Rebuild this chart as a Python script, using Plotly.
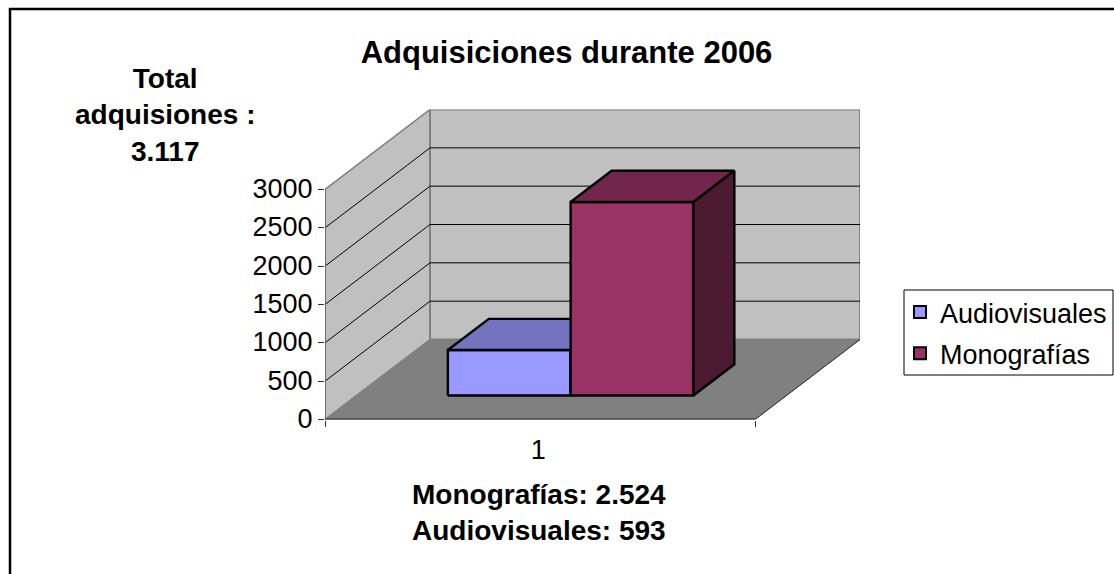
import plotly.graph_objects as go

# ---- data ----
series_names = ["Audiovisuales", "Monografías"]
series_values = [593, 2524]
categories = ["1"]
value_ticks = [0, 500, 1000, 1500, 2000, 2500, 3000]
title_text = "Adquisiciones durante 2006"
total_text = "Total<br>adquisiones :<br>3.117"
detail_text = "Monografías: 2.524<br>Audiovisuales: 593"

# ---- style and oblique projection ----
W, H = 1114, 574
FONT = "Liberation Sans"
DEPTH_X = 105 / 430      # floor depth, in category-width units
VMAX = value_ticks[-1]
DEPTH_V = VMAX * 80 / 230  # floor depth, in value units
GAP, BAR_W = 0.2125, 0.2855
BAR_D0, BAR_D1 = 0.30, 0.69
FACES = [
    dict(front="#9999FF", top="#7373BF", side="#4D4D80"),
    dict(front="#993366", top="#73264D", side="#4D1A33"),
]


def proj(x, depth, v):
    return x + depth * DEPTH_X, v + depth * DEPTH_V


def poly(pts):
    p = [proj(*q) for q in pts]
    return [a for a, _ in p], [b for _, b in p]


fig = go.Figure()


def face(pts, fill, line="#000000", width=2.4, close=True):
    xs, ys = poly(pts)
    if close:
        xs, ys = xs + xs[:1], ys + ys[:1]
    fig.add_trace(go.Scatter(
        x=xs, y=ys, mode="lines", showlegend=False, hoverinfo="skip",
        fill="toself" if fill else None, fillcolor=fill,
        line=dict(color=line, width=width),
    ))


# walls and floor
face([(0, 0, 0), (0, 1, 0), (0, 1, VMAX), (0, 0, VMAX)], "#C0C0C0", "#808080", 1.5)
face([(0, 1, 0), (1, 1, 0), (1, 1, VMAX), (0, 1, VMAX)], "#C0C0C0", "#808080", 2)
face([(0, 0, 0), (1, 0, 0), (1, 1, 0), (0, 1, 0)], "#808080", "#808080", 1)

# gridlines
for v in value_ticks[1:-1]:
    face([(0, 0, v), (0, 1, v), (1, 1, v)], None, "#000000", 1, close=False)
face([(0, 0, VMAX), (0, 1, VMAX)], None, "#808080", 1, close=False)

# axes edges
face([(1, 0, 0), (1, 1, 0)], None, "#303030", 1, close=False)
face([(0, 0, 0), (0, 0, VMAX)], None, "#606060", 1.5, close=False)
face([(0, 0, 0), (1, 0, 0)], None, "#303030", 2, close=False)

# bars
for i, val in enumerate(series_values):
    x0 = GAP + i * BAR_W
    x1 = x0 + BAR_W
    c = FACES[i]
    face([(x0, BAR_D0, 0), (x1, BAR_D0, 0), (x1, BAR_D0, val), (x0, BAR_D0, val)], c["front"])
    face([(x0, BAR_D0, val), (x1, BAR_D0, val), (x1, BAR_D1, val), (x0, BAR_D1, val)], c["top"])
    face([(x1, BAR_D0, 0), (x1, BAR_D1, 0), (x1, BAR_D1, val), (x1, BAR_D0, val)], c["side"])

# legend entries
for i, name in enumerate(series_names):
    fig.add_trace(go.Scatter(
        x=[None], y=[None], mode="markers", name=name, legendgroup=name,
        marker=dict(symbol="square", size=17, color=FACES[i]["front"],
                    line=dict(color="#000000", width=2)),
    ))

fig.update_layout(
    width=W, height=H, autosize=False,
    margin=dict(l=0, r=0, t=0, b=0, autoexpand=False),
    paper_bgcolor="#FFFFFF", plot_bgcolor="rgba(0,0,0,0)",
    font=dict(family=FONT, color="#000000", size=27),
    hovermode=False,
    title=dict(text=title_text, x=566.5 / W, xanchor="center", y=1 - 52 / H, yanchor="middle",
               font=dict(family=FONT, size=31, weight="bold")),
    xaxis=dict(
        domain=[325 / W, 860 / W], range=[0, 1 + DEPTH_X],
        showgrid=False, zeroline=False, showline=False,
        tickmode="array", tickvals=[0.496], ticktext=categories, ticks="", ticklabelstandoff=11,
        tickfont=dict(size=27),
        minor=dict(ticks="outside", ticklen=6, tickmode="linear", tick0=0, dtick=1,
                   tickcolor="#303030", tickwidth=1, showgrid=False),
    ),
    yaxis=dict(
        domain=[1 - 419.5 / H, 1 - 109.5 / H], range=[0, VMAX + DEPTH_V],
        showgrid=False, zeroline=False, showline=False,
        tickmode="array", tickvals=value_ticks, ticks="outside", ticklen=6,
        tickcolor="#303030", tickwidth=1, tickfont=dict(size=27), ticklabelshift=-1,
    ),
    legend=dict(
        x=900 / W, xanchor="left", y=1 - 288 / H, yanchor="top",
        borderwidth=0, bgcolor="rgba(0,0,0,0)",
        font=dict(family=FONT, size=27), itemsizing="constant", tracegroupgap=3,
    ),
    annotations=[
        dict(text=total_text, xref="paper", yref="paper", x=165 / W, y=1 - 115 / H,
             xanchor="center", yanchor="middle", showarrow=False, align="center",
             font=dict(family=FONT, size=28, weight="bold")),
        dict(text=detail_text, xref="paper", yref="paper", x=539 / W, y=1 - 512 / H,
             xanchor="center", yanchor="middle", showarrow=False, align="center",
             font=dict(family=FONT, size=28, weight="bold")),
    ],
    shapes=[
        dict(type="line", xref="paper", yref="paper", x0=10 / W, x1=10 / W, y0=0, y1=1 - 8 / H,
             line=dict(color="#000000", width=2.5)),
        dict(type="line", xref="paper", yref="paper", x0=9 / W, x1=1, y0=1 - 9 / H, y1=1 - 9 / H,
             line=dict(color="#000000", width=2.5)),
        dict(type="rect", xref="paper", yref="paper", x0=904 / W, x1=1113 / W,
             y0=1 - 375 / H, y1=1 - 290 / H, line=dict(color="#000000", width=1),
             fillcolor="#FFFFFF"),
    ],
)

fig.write_html("out.html", config=dict(displayModeBar=False),
               post_script="document.body.style.margin='0';document.body.style.overflow='hidden';")
